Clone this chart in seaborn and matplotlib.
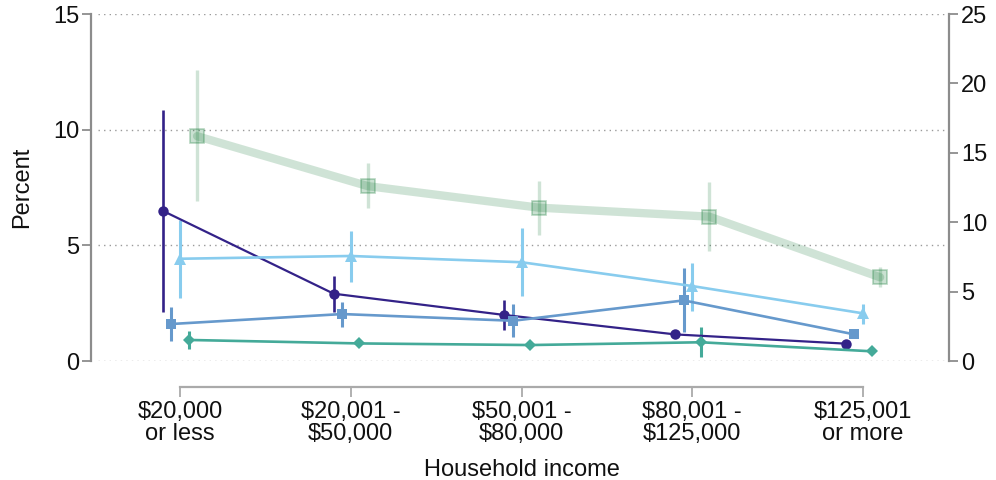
import matplotlib
matplotlib.use("Agg")
import matplotlib.pyplot as plt
import numpy as np
import pandas as pd
import seaborn as sns

# Income brackets (x axis)
income_labels = ["$20,000\nor less", "$20,001 -\n$50,000", "$50,001 -\n$80,000",
                 "$80,001 -\n$125,000", "$125,001\nor more"]

# Left-axis series (percent), with lower / upper interval bounds
indigo_val = [6.49, 2.91, 1.99, 1.15, 0.75]
indigo_lo = [2.12, 2.13, 1.35, 1.00, 0.62]
indigo_hi = [10.85, 3.67, 2.62, 1.30, 0.88]

blue_val = [1.60, 2.03, 1.74, 2.62, 1.15]
blue_lo = [0.86, 1.48, 1.02, 1.27, 1.02]
blue_hi = [2.33, 2.54, 2.45, 4.01, 1.28]

cyan_val = [4.42, 4.54, 4.27, 3.24, 2.06]
cyan_lo = [2.72, 3.43, 2.81, 2.16, 1.60]
cyan_hi = [6.10, 5.62, 5.74, 4.25, 2.46]

teal_val = [0.91, 0.76, 0.69, 0.81, 0.42]
teal_lo = [0.52, 0.64, 0.57, 0.16, 0.30]
teal_hi = [1.30, 0.88, 0.81, 1.46, 0.54]

# Right-axis series (percent, 0-25 scale)
green_val = [16.2, 12.6, 11.05, 10.4, 6.03]
green_lo = [11.5, 11.05, 9.1, 7.95, 5.3]
green_hi = [21.0, 14.25, 13.0, 12.9, 6.75]

sns.set_theme(style="white")
plt.rcParams["font.family"] = ["Liberation Sans", "DejaVu Sans"]

FS = 17

fig = plt.figure(figsize=(9.96, 4.8), dpi=100)
ax = fig.add_axes([0.0984, 0.2479, 0.8504, 0.7229])
ax2 = ax.twinx()

left_series = [
    ("indigo", indigo_val, indigo_lo, indigo_hi, "#332288", "o", 7.5, 1.6, -0.10),
    ("blue", blue_val, blue_lo, blue_hi, "#6699CC", "s", 7.0, 1.9, -0.05),
    ("cyan", cyan_val, cyan_lo, cyan_hi, "#88CCEE", "^", 8.0, 1.9, 0.0),
    ("teal", teal_val, teal_lo, teal_hi, "#44AA99", "D", 6.5, 1.9, 0.05),
]

x_idx = np.arange(len(income_labels))

for name, val, lo, hi, col, mk, ms, lw, off in left_series:
    df = pd.DataFrame({"pos": x_idx + off, "value": val})
    ax.vlines(df["pos"], lo, hi, color=col, lw=lw + 0.3, zorder=3)
    sns.lineplot(data=df, x="pos", y="value", ax=ax, color=col, marker=mk,
                 markersize=ms, markeredgewidth=0, linewidth=lw, zorder=4,
                 legend=False)

# Green series on the secondary axis
gdf = pd.DataFrame({"pos": x_idx + 0.10, "value": green_val})
ax2.vlines(gdf["pos"], green_lo, green_hi, color="#117733", alpha=0.2, lw=2.4,
           zorder=2)
sns.lineplot(data=gdf, x="pos", y="value", ax=ax2, color="#117733", alpha=0.2,
             linewidth=6, legend=False, zorder=2)
ax2.plot(gdf["pos"], gdf["value"], linestyle="none", marker="s", markersize=9.5,
         markerfacecolor=(0.07, 0.47, 0.2, 0.22),
         markeredgecolor=(0.07, 0.47, 0.2, 0.3), markeredgewidth=1.2, zorder=3)

# Axes limits
ax.set_xlim(-0.48, 4.48)
ax.set_ylim(0, 15)
ax2.set_ylim(0, 25)

# Grid: dotted lines at 0, 5, 10
ax.set_yticks([0, 5, 10, 15])
ax.yaxis.grid(True, linestyle=(0, (1, 3)), color="#9a9a9a", linewidth=1.0)
ax.xaxis.grid(False)
for gl in ax.yaxis.get_gridlines():
    gl.set_clip_on(False)
ax.yaxis.get_gridlines()[-1].set_visible(False)
ax.set_axisbelow(True)

ax.set_xticks(x_idx)
ax.set_xticklabels(income_labels)
ax2.set_yticks([0, 5, 10, 15, 20, 25])

spine_col = "#8c8c8c"
for a in (ax, ax2):
    for s in a.spines.values():
        s.set_visible(False)
ax.spines["left"].set_visible(True)
ax.spines["left"].set_position(("outward", 5))
ax.spines["left"].set_bounds(0, 15)
ax.spines["left"].set_color(spine_col)
ax.spines["left"].set_linewidth(1.6)
ax.spines["bottom"].set_visible(True)
ax.spines["bottom"].set_position(("outward", 19))
ax.spines["bottom"].set_bounds(0, 4)
ax.spines["bottom"].set_color("#aaaaaa")
ax.spines["bottom"].set_linewidth(1.6)
ax2.spines["right"].set_visible(True)
ax2.spines["right"].set_position(("outward", 3))
ax2.spines["right"].set_bounds(0, 25)
ax2.spines["right"].set_color(spine_col)
ax2.spines["right"].set_linewidth(1.6)

ax.tick_params(axis="y", left=True, length=6.5, width=1.3, color=spine_col,
               labelsize=FS, labelcolor="#111111", pad=2)
ax.tick_params(axis="x", bottom=True, length=7, width=1.3, color="#aaaaaa",
               labelsize=FS, labelcolor="#111111", pad=3)
ax2.tick_params(axis="y", right=True, length=6.5, width=1.3, color=spine_col,
                labelsize=FS, labelcolor="#111111", pad=2)
for t in ax.get_xticklabels():
    t.set_linespacing(1.0)

ax.set_xlabel("Household income", fontsize=FS, color="#111111", labelpad=10)
ax.set_ylabel("Percent", fontsize=FS, color="#111111", labelpad=14)
ax2.set_ylabel("")

fig.savefig("out.png", dpi=100)
